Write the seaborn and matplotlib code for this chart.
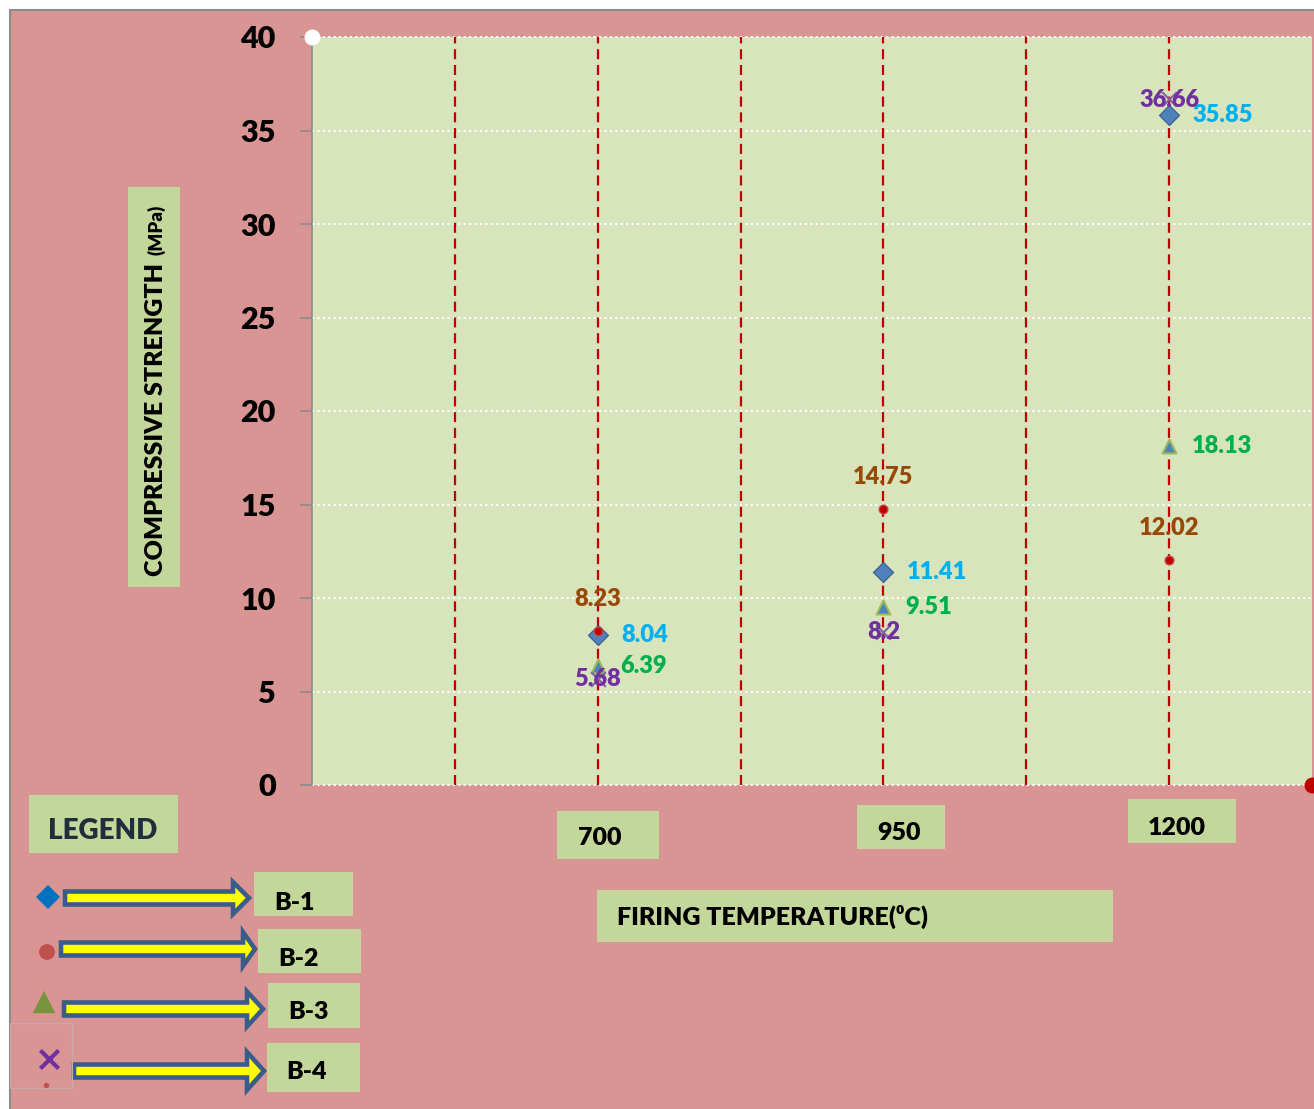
import matplotlib
matplotlib.use("Agg")
import matplotlib.pyplot as plt
import numpy as np
import pandas as pd
import seaborn as sns
from matplotlib.patches import Rectangle, Polygon

# ---------------- data ----------------
temperatures = ["700", "950", "1200"]
series_names = ["B-1", "B-2", "B-3", "B-4"]
b1_values = [8.04, 11.41, 35.85]
b2_values = [8.23, 14.75, 12.02]
b3_values = [6.39, 9.51, 18.13]
b4_values = [5.68, 8.2, 36.66]
y_ticks = [0, 5, 10, 15, 20, 25, 30, 35, 40]
y_label_main = "COMPRESSIVE STRENGTH"
y_label_unit = "(MPa)"
x_label = "FIRING TEMPERATURE(\u2070C)"
legend_title = "LEGEND"

# ---------------- style ----------------
sns.set_style("white")
plt.rcParams["font.family"] = ["Lato", "DejaVu Sans"]
WT = "heavy"
plt.rcParams["font.weight"] = WT

W, H = 1314, 1109
PINK = "#D99594"
PLOT_BG = "#D8E4BC"
BOX = "#C4D79B"

rows = []
for name, vals in zip(series_names, [b1_values, b2_values, b3_values, b4_values]):
    for i, (t, v) in enumerate(zip(temperatures, vals)):
        rows.append({"series": name, "temp": t, "pos": 2 * (i + 1), "value": v})
df = pd.DataFrame(rows)

fig = plt.figure(figsize=(W / 100, H / 100), dpi=100)
fig.patch.set_facecolor("white")

# background layer (pixel coordinates)
bg = fig.add_axes([0, 0, 1, 1], zorder=-1)
bg.set_xlim(0, W); bg.set_ylim(H, 0); bg.axis("off")
bg.add_patch(Rectangle((10, 10), W, H, facecolor=PINK, edgecolor="#8C8C8C", lw=1.5))

# main plot
ax = fig.add_axes([312 / W, 1 - 785 / H, 1000 / W, 748 / H], zorder=1)
ax.set_facecolor(PLOT_BG)
ax.set_xlim(0, 7)
ax.set_ylim(0, 40)
ax.set_yticks(y_ticks)
ax.set_yticklabels([str(t) for t in y_ticks], fontsize=22, fontweight=WT, color="black")
ax.set_xticks([])
for s in ["top", "right", "bottom"]:
    ax.spines[s].set_visible(False)
ax.spines["left"].set_color("#8C8C8C")
ax.spines["left"].set_linewidth(1.2)
ax.tick_params(axis="y", length=9, width=1.2, color="#8C8C8C", pad=17, left=True)
for yt in y_ticks:
    ax.axhline(yt, color="white", lw=1.5, linestyle=(0, (1, 1.6)), zorder=0.5, clip_on=False)
for xv in range(1, 7):
    ax.axvline(xv, color="#C00000", lw=1.6, linestyle=(0, (4.5, 2.6)), zorder=0.6)

# series
style = {
    "B-1": dict(marker="D", s=105, color="#4F81BD", edgecolor="#385D8A", linewidth=0.8, zorder=3),
    "B-3": dict(marker="^", s=100, color="#4F81BD", edgecolor="#9BBB59", linewidth=1.5, zorder=4),
    "B-4": dict(marker="x", s=110, color="#8064A2", linewidth=1.5, zorder=5),
    "B-2": dict(marker="o", s=40, color="#C00000", edgecolor="#C0504D", linewidth=1.0, zorder=6),
}
for name in ["B-1", "B-3", "B-4", "B-2"]:
    sub = df[df["series"] == name]
    sns.scatterplot(data=sub, x="pos", y="value", ax=ax, legend=False, **style[name])
ax.set_xlabel(""); ax.set_ylabel("")

label_style = {
    "B-1": dict(color="#00B0F0", ha="left", va="center", offset=(17, 0)),
    "B-2": dict(color="#984807", ha="center", va="center", offset=(0, 23)),
    "B-3": dict(color="#00B050", ha="left", va="center", offset=(16, 0)),
    "B-4": dict(color="#7030A0", ha="center", va="center", offset=(0, -0.5)),
}
for _, r in df.iterrows():
    st = label_style[r["series"]]
    ax.annotate(f"{r['value']:g}", (r["pos"], r["value"]), xytext=st["offset"],
                textcoords="offset points", ha=st["ha"], va=st["va"],
                color=st["color"], fontsize=17, fontweight=WT, zorder=10)

# corner artifacts
ax.scatter([ax.get_xlim()[0]], [ax.get_ylim()[1]], s=110, color="white", clip_on=False, zorder=10)
ax.scatter([ax.get_xlim()[1]], [ax.get_ylim()[0]], s=110, color="#C00000", clip_on=False, zorder=10)

# overlay (pixel coordinates)
ov = fig.add_axes([0, 0, 1, 1], zorder=2)
ov.set_xlim(0, W); ov.set_ylim(H, 0); ov.axis("off")
ov.patch.set_alpha(0)

def box(x0, y0, x1, y1):
    ov.add_patch(Rectangle((x0, y0), x1 - x0, y1 - y0, facecolor=BOX, edgecolor="none"))

# y label
box(128, 187, 180, 587)
ov.text(156, 420, y_label_main, rotation=90, ha="center", va="center", fontsize=18,
        fontweight=WT, color="black")
ov.text(156, 230, y_label_unit, rotation=90, ha="center", va="center", fontsize=13.5,
        fontweight=WT, color="black")

# category labels
cat_boxes = [(557, 811, 659, 859), (857, 805, 945, 849), (1128, 799, 1236, 843)]
cat_text_pos = [(600, 838), (899, 833), (1177, 828)]
for t, b, p in zip(temperatures, cat_boxes, cat_text_pos):
    box(*b)
    ov.text(p[0], p[1], t, ha="center", va="center", fontsize=18, fontweight=WT, color="black")

# x label
box(597, 890, 1113, 942)
ov.text(617, 917, x_label, ha="left", va="center", fontsize=18, fontweight=WT, color="black")

# legend
box(29, 795, 178, 853)
ov.text(103, 831, legend_title, ha="center", va="center", fontsize=20, fontweight=WT, color="#1F2D3D")

arrows = [(63, 233, 252, 898, 18), (59, 243, 258, 949, 19), (62, 247, 266, 1009, 19.5), (72, 247, 267, 1071, 21)]
for (x0, xb, xt, yc, hh) in arrows:
    sh = 6.5
    pts = [(x0 + 2, yc - sh), (xb, yc - sh), (xb, yc - hh + 2), (xt - 3, yc), (xb, yc + hh - 2),
           (xb, yc + sh), (x0 + 2, yc + sh)]
    ov.add_patch(Polygon(pts, closed=True, facecolor="#FFFF00", edgecolor="#3A5C8C", lw=3.3,
                         joinstyle="miter"))

lab_boxes = [(254, 872, 353, 916), (258, 929, 361, 973), (268, 983, 360, 1028), (267, 1043, 360, 1092)]
lab_pos = [(295, 903), (299, 959), (308, 1012), (307, 1072)]
for name, b, p in zip(series_names, lab_boxes, lab_pos):
    box(*b)
    ov.text(p[0], p[1], name, ha="center", va="center", fontsize=18, fontweight=WT, color="black")

leg_markers = [("D", 150, "#0070C0", (48, 897)), ("o", 130, "#C0504D", (47, 952)),
               ("^", 260, "#77933C", (44, 1002)), ("x", 170, "#7030A0", (49, 1059))]
for m, s, c, (px, py) in leg_markers:
    kw = dict(linewidths=3) if m == "x" else dict(edgecolors="none")
    ov.scatter([px], [py], marker=m, s=s, color=c, **kw)
ov.add_patch(Rectangle((10, 1023), 62, 65, facecolor="none", edgecolor="#C9A9A9", lw=0.8))
ov.scatter([46], [1085], s=8, color="#C0504D")

fig.savefig("out.png", dpi=100, facecolor=fig.get_facecolor())
